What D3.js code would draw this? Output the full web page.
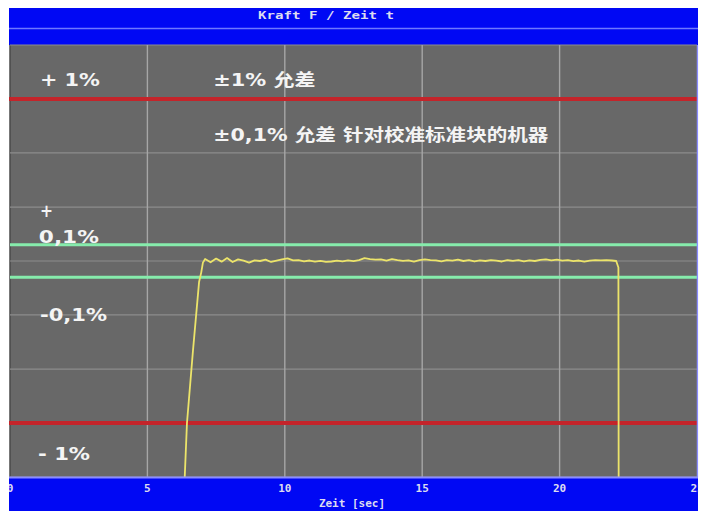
<!DOCTYPE html>
<html>
<head>
<meta charset="utf-8">
<script src="https://cdn.jsdelivr.net/npm/d3@7"></script>
<style>
  body { margin:0; background:#fff; }
  svg { display:block; }
</style>
</head>
<body>
<svg id="canvas"></svg>
<script>
// axis / grid values
let xTicks = [0, 5, 10, 15, 20, 25];
let yGrid = [-1.333, -1, -0.667, -0.333, 0, 0.333, 0.667, 1, 1.333];
let redLimits = [1, -1];
let greenLimits = [0.1, -0.1];

// force signal (deviation in %)
let sigT = [6.33, 6.44, 6.66, 6.88, 6.96, 7.02,
  7.1, 7.3, 7.5, 7.7, 7.9, 8.1, 8.3, 8.5, 8.7, 8.9, 9.1, 9.3, 9.5, 9.7, 9.9,
  10.1, 10.3, 10.5, 10.7, 10.9, 11.1, 11.3, 11.5, 11.7, 11.9, 12.1, 12.3, 12.5, 12.7, 12.9,
  13.1, 13.3, 13.5, 13.7, 13.9, 14.1, 14.3, 14.5, 14.7, 14.9, 15.1, 15.3, 15.5, 15.7, 15.9,
  16.1, 16.3, 16.5, 16.7, 16.9, 17.1, 17.3, 17.5, 17.7, 17.9, 18.1, 18.3, 18.5, 18.7, 18.9,
  19.1, 19.3, 19.5, 19.7, 19.9, 20.1, 20.3, 20.5, 20.7, 20.9, 21.1, 21.3, 21.5, 21.7, 21.9,
  22.06, 22.14, 22.15];
let sigV = [-1.45, -1.0, -0.55, -0.13, -0.07, -0.01,
  0.012, -0.008, 0.015, -0.004, 0.018, -0.006, 0.010, 0.002, -0.010, 0.004, 0.000, 0.008, -0.006, 0.003, 0.010,
  0.016, 0.004, 0.006, -0.002, 0.003, -0.004, 0.001, -0.006, -0.003, 0.002, -0.002, 0.004, -0.001, 0.006, 0.018,
  0.012, 0.008, 0.010, 0.003, 0.012, 0.006, 0.001, 0.004, -0.004, 0.005, 0.010, 0.006, 0.004, -0.002, 0.006,
  0.002, 0.008, 0.000, 0.005, -0.003, 0.004, 0.000, 0.006, 0.002, -0.003, 0.005, 0.001, 0.006, -0.002, 0.004,
  0.000, 0.007, 0.010, 0.004, 0.008, 0.002, 0.005, -0.001, 0.003, -0.004, 0.002, 0.006, 0.004, 0.005, 0.003,
  0.000, -0.04, -1.45];

// annotations: text, t (sec), value (%)
let noteText = ["+ 1%", "±1% 允差", "±0,1% 允差 针对校准标准块的机器", "+", "0,1%", "-0,1%", "- 1%"];
let noteT = [1.09, 7.4, 7.4, 1.09, 1.05, 1.09, 1.02];
let noteV = [1.082, 1.082, 0.741, 0.272, 0.111, -0.37, -1.228];

// layout
let W = 704, H = 511;
let pLeft = 10, pRight = 697, pTop = 45, pBottom = 477;
let noteWidth = [60, 102, 335, 13, 60, 67, 52];
let noteSize = [18, 17, 17, 18, 18, 18, 18];

let svg = d3.select('#canvas').attr("width", W).attr("height", H);

let x = d3.scaleLinear().domain([0, 25]).range([pLeft, pRight]);
let y = d3.scaleLinear().domain([-1.333, 1.333]).range([pBottom, pTop]);

// top blue bars
svg.append("rect").attr("x", pLeft - 1).attr("y", 8).attr("width", pRight - pLeft + 2).attr("height", pTop - 8).attr("fill", "#0008f4");
svg.append("line").attr("x1", pLeft - 1).attr("x2", pRight + 1).attr("y1", 28.5).attr("y2", 28.5).attr("stroke", "#6f78ff").attr("stroke-width", 1.5);
svg.append("text").text("Kraft F  /  Zeit t")
  .attr("x", 258).attr("y", 19)
  .attr("textLength", 136).attr("lengthAdjust", "spacingAndGlyphs")
  .style("font-family", "DejaVu Sans Mono").style("font-weight", "bold").style("font-size", "10.5px")
  .attr("fill", "#dcdcf0");

// bottom blue bar
svg.append("rect").attr("x", pLeft - 1).attr("y", pBottom).attr("width", pRight - pLeft + 2).attr("height", H - pBottom).attr("fill", "#0008f4");

// plot background
svg.append("rect").attr("x", pLeft).attr("y", pTop).attr("width", pRight - pLeft).attr("height", pBottom - pTop).attr("fill", "#686868");
svg.append("line").attr("x1", pLeft).attr("x2", pLeft).attr("y1", pTop).attr("y2", pBottom).attr("stroke", "#4a4a4a").attr("stroke-width", 1.5);

// grid
svg.append("g").selectAll("line").data(yGrid).enter().append("line")
  .attr("x1", pLeft).attr("x2", pRight)
  .attr("y1", d => y(d)).attr("y2", d => y(d))
  .attr("stroke", "#8c8c8c").attr("stroke-width", 1.2);
svg.append("g").selectAll("line").data(xTicks.slice(1, -1)).enter().append("line")
  .attr("x1", d => x(d)).attr("x2", d => x(d))
  .attr("y1", pTop).attr("y2", pBottom)
  .attr("stroke", "#a6a6a6").attr("stroke-width", 1.4);

// limit lines
svg.append("g").selectAll("line").data(redLimits).enter().append("line")
  .attr("x1", pLeft - 2).attr("x2", pRight)
  .attr("y1", d => y(d)).attr("y2", d => y(d))
  .attr("stroke", "#c4242a").attr("stroke-width", 4);
svg.append("g").selectAll("line").data(greenLimits).enter().append("line")
  .attr("x1", pLeft).attr("x2", pRight)
  .attr("y1", d => y(d)).attr("y2", d => y(d))
  .attr("stroke", "#86ecac").attr("stroke-width", 3);

// signal
svg.append("clipPath").attr("id", "clip").append("rect")
  .attr("x", pLeft).attr("y", pTop).attr("width", pRight - pLeft).attr("height", pBottom - pTop);
let line = d3.line().x((d, i) => x(sigT[i])).y(d => y(d));
svg.append("path").datum(sigV)
  .attr("d", line)
  .attr("clip-path", "url(#clip)")
  .attr("fill", "none").attr("stroke", "#ece46a").attr("stroke-width", 1.8)
  .attr("stroke-linejoin", "round");

// frame edges
svg.append("line").attr("x1", pLeft - 1).attr("x2", pRight + 1).attr("y1", pBottom + 0.5).attr("y2", pBottom + 0.5).attr("stroke", "#8a8cff").attr("stroke-width", 2);
svg.append("line").attr("x1", pRight + 0.5).attr("x2", pRight + 0.5).attr("y1", pTop).attr("y2", pBottom).attr("stroke", "#8a8cff").attr("stroke-width", 1.5);

// x axis labels
svg.append("g").selectAll("text").data(xTicks).enter().append("text")
  .text(d => d)
  .attr("x", d => x(d)).attr("y", 492)
  .attr("text-anchor", "middle")
  .style("font-family", "DejaVu Sans Mono").style("font-weight", "bold").style("font-size", "11px")
  .attr("fill", "#dcdcf0");
svg.append("text").text("Zeit [sec]")
  .attr("x", 352).attr("y", 507)
  .attr("text-anchor", "middle")
  .style("font-family", "DejaVu Sans Mono").style("font-weight", "bold").style("font-size", "11px")
  .attr("fill", "#dcdcf0");

// cover overflow outside frame
svg.append("rect").attr("x", 0).attr("y", 0).attr("width", pLeft - 1).attr("height", H).attr("fill", "#fff");
svg.append("rect").attr("x", pRight + 1.3).attr("y", 0).attr("width", W - pRight).attr("height", H).attr("fill", "#fff");

// annotations
svg.append("g").selectAll("text").data(noteText).enter().append("text")
  .text(d => d)
  .attr("x", (d, i) => x(noteT[i]))
  .attr("y", (d, i) => y(noteV[i]))
  .attr("textLength", (d, i) => noteWidth[i])
  .attr("lengthAdjust", "spacingAndGlyphs")
  .style("font-family", "'DejaVu Sans', 'Noto Sans CJK SC', sans-serif")
  .style("font-weight", "bold")
  .style("font-size", (d, i) => noteSize[i] + "px")
  .attr("fill", "#f4f4f4");
</script>
</body>
</html>
